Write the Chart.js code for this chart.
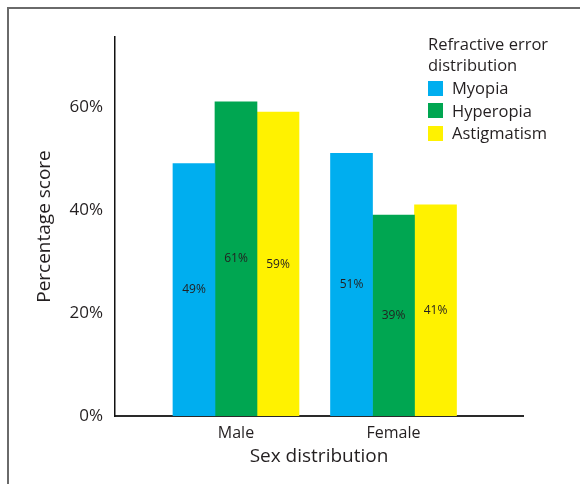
<!DOCTYPE html>
<html><head><meta charset="utf-8">
<script src="https://cdn.jsdelivr.net/npm/chart.js@4"></script>
<style>
html,body{margin:0;padding:0;background:#fff;overflow:hidden}
#wrap{position:relative;width:580px;height:484px;overflow:hidden}
#frame{position:absolute;left:7px;top:7px;width:640px;height:540px;border-top:2px solid #6a6a6a;border-left:2px solid #6a6a6a}
#c{position:absolute;left:0;top:0}
#legend{position:absolute;left:428px;top:34px;font-family:'Open Sans',sans-serif;color:#231f20;font-size:16.5px;line-height:20.5px}
#legend .t{margin-bottom:2px}
#legend .it{display:flex;align-items:center;height:22.5px}
#legend .sw{width:15px;height:15px;margin-right:9px;flex:none}
</style></head>
<body>
<div id="wrap">
<div id="frame"></div>
<canvas id="c" width="580" height="484"></canvas>
<div id="legend"></div>
</div>
<script>
const categories = ['Male', 'Female'];
const seriesNames = ['Myopia', 'Hyperopia', 'Astigmatism'];
const myopia = [49, 51];
const hyperopia = [61, 39];
const astigmatism = [59, 41];
const yTicks = [0, 20, 40, 60];
const yTickLabels = ['0%', '20%', '40%', '60%'];
const legendTitle = ['Refractive error', 'distribution'];
const xTitle = 'Sex distribution';
const yTitle = 'Percentage score';
const colors = ['#00AEEF', '#00A651', '#FFF200'];

const FONT = "'Open Sans', sans-serif";
const TXT = '#231f20';
const series = [myopia, hyperopia, astigmatism];

const datasets = series.map((vals, k) => ({
  label: seriesNames[k],
  data: vals.map((v, i) => ({x: i, y: v})),
  backgroundColor: colors[k],
  borderWidth: 0,
  barThickness: 42
}));

const barLabels = {
  id: 'barLabels',
  afterDatasetsDraw(chart) {
    const ctx = chart.ctx;
    ctx.save();
    ctx.font = "12px " + FONT;
    ctx.fillStyle = TXT;
    ctx.textAlign = 'center';
    ctx.textBaseline = 'middle';
    chart.data.datasets.forEach((ds, di) => {
      chart.getDatasetMeta(di).data.forEach((el, i) => {
        const v = ds.data[i].y;
        ctx.fillText(v + '%', el.x, (el.y + el.base) / 2);
      });
    });
    ctx.restore();
  }
};

new Chart(document.getElementById('c'), {
  type: 'bar',
  data: {datasets},
  plugins: [barLabels],
  options: {
    responsive: false,
    animation: false,
    layout: {padding: {top: 37, right: 57, left: 0, bottom: 0}},
    plugins: {legend: {display: false}, tooltip: {enabled: false}},
    scales: {
      x: {
        type: 'linear',
        offset: false,
        min: -0.768,
        max: 1.822,
        grid: {display: false, drawTicks: false},
        border: {display: true, color: '#2a2a2a', width: 2},
        afterBuildTicks: s => { s.ticks = categories.map((c, i) => ({value: i})); },
        ticks: {
          callback: v => categories[v],
          font: {family: FONT, size: 16},
          color: TXT,
          padding: 8,
          autoSkip: false,
          maxRotation: 0
        },
        title: {display: true, text: xTitle, font: {family: FONT, size: 19}, color: TXT, padding: {top: 16, bottom: 16}},
        afterFit: s => { s.height = 68; }
      },
      y: {
        min: 0,
        max: 73.6,
        grid: {display: false, drawTicks: false},
        border: {display: true, color: '#111', width: 1.5},
        afterBuildTicks: s => { s.ticks = yTicks.map(v => ({value: v})); },
        ticks: {
          callback: v => yTickLabels[yTicks.indexOf(v)],
          font: {family: FONT, size: 17},
          color: TXT,
          padding: 12
        },
        title: {display: true, text: yTitle, font: {family: FONT, size: 19}, color: TXT, padding: {top: 33, bottom: 33}},
        afterFit: s => { s.width = 115; }
      }
    }
  }
});

const lg = document.getElementById('legend');
lg.innerHTML = '<div class="t">' + legendTitle.join('<br>') + '</div>' +
  seriesNames.map((n, k) => '<div class="it"><span class="sw" style="background:' + colors[k] + '"></span>' + n + '</div>').join('');
</script>
</body></html>
